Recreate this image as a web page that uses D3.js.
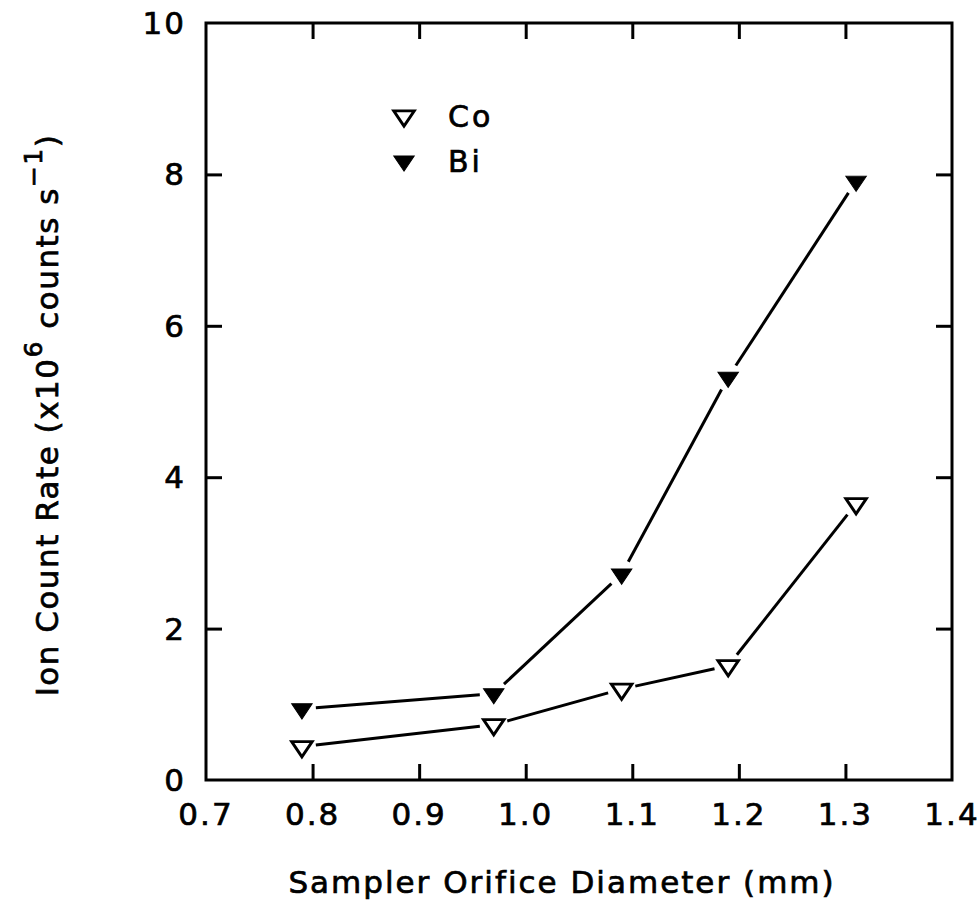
<!DOCTYPE html>
<html>
<head>
<meta charset="utf-8">
<script src="https://cdn.jsdelivr.net/npm/d3@7"></script>
<style>
  body { margin: 0; background: #fff; }
  text { font-family: "DejaVu Sans", sans-serif; fill: #000; stroke: #000; stroke-width: 0.7px; }
</style>
</head>
<body>
<div id="chart"></div>
<script>
// data
const diameters = [0.79, 0.97, 1.09, 1.19, 1.31];
const coRate = [0.44, 0.73, 1.20, 1.51, 3.65];
const biRate = [0.94, 1.14, 2.72, 5.32, 7.91];
const xTicks = [0.7, 0.8, 0.9, 1.0, 1.1, 1.2, 1.3, 1.4];
const yTicks = [0, 2, 4, 6, 8, 10];

const width = 979, height = 916;
const margin = {t:23, r:27, b:136, l:206};
const w = width - margin.l - margin.r;
const h = height - margin.t - margin.b;

const svg = d3.select('#chart').append('svg')
  .attr('width', width).attr('height', height);
const plot = svg.append('g')
  .attr('transform', `translate(${margin.l},${margin.t})`);

const scaleX = d3.scaleLinear().domain([0.7, 1.4]).range([0, w]);
const scaleY = d3.scaleLinear().domain([0, 10]).range([h, 0]);

const tickLen = 16;
const innerX = xTicks.slice(1, -1);
const innerY = yTicks.slice(1, -1);

//Axes: ticks point inward, mirrored on all four sides
const axisBottom = d3.axisBottom(scaleX).tickValues(innerX).tickSize(-tickLen).tickFormat('');
const axisTop = d3.axisTop(scaleX).tickValues(innerX).tickSize(-tickLen).tickFormat('');
const axisLeft = d3.axisLeft(scaleY).tickValues(innerY).tickSize(-tickLen).tickFormat('');
const axisRight = d3.axisRight(scaleY).tickValues(innerY).tickSize(-tickLen).tickFormat('');

plot.append('g').attr('transform', `translate(0,${h})`).call(axisBottom);
plot.append('g').call(axisTop);
plot.append('g').call(axisLeft);
plot.append('g').attr('transform', `translate(${w},0)`).call(axisRight);

plot.selectAll('.domain').remove();
plot.selectAll('.tick line').attr('stroke', '#000').attr('stroke-width', 3);

plot.append('rect')
  .attr('width', w).attr('height', h)
  .attr('fill', 'none').attr('stroke', '#000').attr('stroke-width', 3);

//Tick labels
plot.selectAll('.xlab').data(xTicks).enter().append('text')
  .attr('x', d => scaleX(d))
  .attr('y', h + 45)
  .attr('text-anchor', 'middle')
  .style('font-size', '31px')
  .style('letter-spacing', '2px')
  .text(d => d.toFixed(1));

plot.selectAll('.ylab').data(yTicks).enter().append('text')
  .attr('x', -20)
  .attr('y', d => scaleY(d) + 11)
  .attr('text-anchor', 'end')
  .style('font-size', '31px')
  .style('letter-spacing', '2px')
  .text(d => d);

//Axis titles
svg.append('text')
  .attr('x', 562).attr('y', 893)
  .attr('text-anchor', 'middle')
  .style('font-size', '31px')
  .style('letter-spacing', '2px')
  .text('Sampler Orifice Diameter (mm)');

const yTitle = svg.append('text')
  .attr('transform', 'translate(58,415) rotate(-90)')
  .attr('text-anchor', 'middle')
  .style('font-size', '31px')
  .style('letter-spacing', '1.5px');
yTitle.append('tspan').text('Ion Count Rate (x10');
yTitle.append('tspan').attr('dy', -16).style('font-size', '25px').text('6');
yTitle.append('tspan').attr('dy', 16).text(' counts s');
yTitle.append('tspan').attr('dy', -16).style('font-size', '25px').text('\u22121');
yTitle.append('tspan').attr('dy', 16).text(')');

//Series
const series = [
  {name:'Co', values:coRate, filled:false},
  {name:'Bi', values:biRate, filled:true}
];

const tri = d3.symbol().type(d3.symbolTriangle).size(165);
const gap = 14;

series.forEach(s => {
  const pts = diameters.map((d, i) => [scaleX(d), scaleY(s.values[i])]);
  //segments trimmed so they stop short of the markers
  const segs = d3.pairs(pts).map(([a, b]) => {
    const dx = b[0] - a[0], dy = b[1] - a[1];
    const len = Math.hypot(dx, dy);
    const ux = dx / len, uy = dy / len;
    return [[a[0] + ux * gap, a[1] + uy * gap], [b[0] - ux * gap, b[1] - uy * gap]];
  });
  plot.selectAll(null).data(segs).enter().append('path')
    .attr('d', d => d3.line()(d))
    .attr('fill', 'none')
    .attr('stroke', '#000')
    .attr('stroke-width', 3);

  plot.selectAll(null).data(pts).enter().append('path')
    .attr('d', tri)
    .attr('transform', d => `translate(${d[0]},${d[1]}) rotate(180) scale(1.05,0.9)`)
    .attr('fill', s.filled ? '#000' : '#fff')
    .attr('stroke', '#000')
    .attr('stroke-width', s.filled ? 1 : 3);
});

//Legend
const legend = svg.append('g').attr('transform', 'translate(404,116)');
series.forEach((s, i) => {
  const row = legend.append('g').attr('transform', `translate(0,${i * 45})`);
  row.append('path')
    .attr('d', tri)
    .attr('transform', 'rotate(180) scale(1.05,0.9)')
    .attr('fill', s.filled ? '#000' : '#fff')
    .attr('stroke', '#000')
    .attr('stroke-width', s.filled ? 1 : 3);
  row.append('text')
    .attr('x', 44).attr('y', 11)
    .style('font-size', '30px')
    .style('letter-spacing', '3px')
    .text(s.name);
});
</script>
</body>
</html>
